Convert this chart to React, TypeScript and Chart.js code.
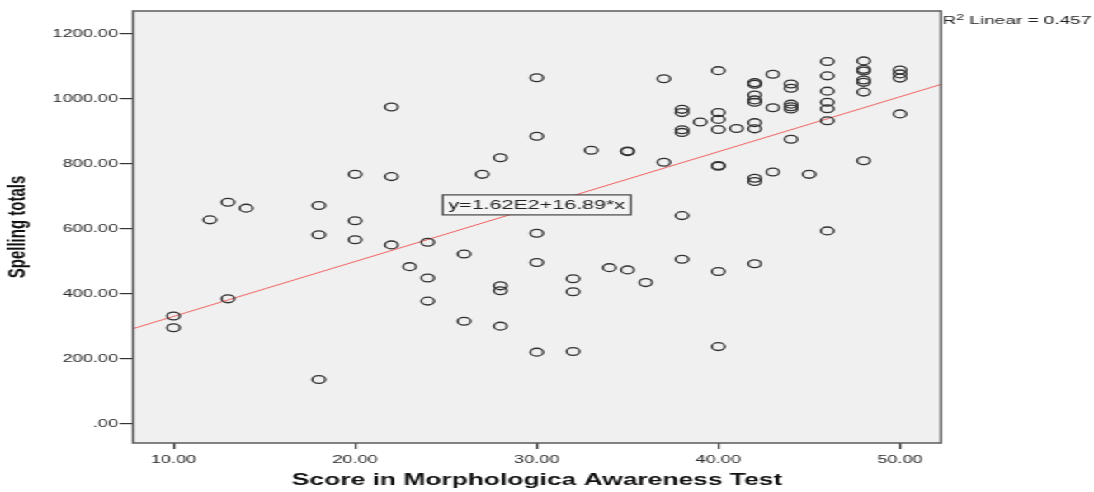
import React, { useEffect, useRef } from "react";
import { Chart, registerables } from "chart.js";

Chart.register(...registerables);

// The reference picture is horizontally stretched; render narrow and stretch.
const FULL_W = 1094;
const FULL_H = 492;
const W = 663;
const STRETCH = FULL_W / W;

const FONT = "'Liberation Sans', Arial, sans-serif";

const scoreValues = [
  10, 10,
  12,
  13, 13,
  14,
  18, 18, 18,
  20, 20, 20,
  22, 22, 22,
  23,
  24, 24, 24,
  26, 26,
  27,
  28, 28, 28, 28,
  30, 30, 30, 30, 30,
  32, 32, 32,
  33,
  34,
  35, 35, 35,
  36,
  37, 37,
  38, 38, 38, 38, 38, 38,
  39,
  40, 40, 40, 40, 40, 40, 40, 40,
  41,
  42, 42, 42, 42, 42, 42, 42, 42, 42, 42,
  43, 43, 43,
  44, 44, 44, 44, 44, 44,
  45,
  46, 46, 46, 46, 46, 46, 46,
  48, 48, 48, 48, 48, 48, 48,
  50, 50, 50, 50,
];

const spellingValues = [
  332, 296,
  628,
  682, 385,
  664,
  672, 582, 137,
  768, 625, 567,
  975, 761, 551,
  484,
  559, 449, 378,
  523, 316,
  768,
  819, 425, 410, 301,
  1065, 885, 587, 497, 221,
  447, 407, 223,
  842,
  481,
  840, 838, 474,
  435,
  1062, 805,
  968, 958, 905, 897, 641, 507,
  929,
  1087, 958, 937, 906, 795, 793, 469, 238,
  909,
  1050, 1045, 1012, 997, 990, 927, 908, 756, 746, 493,
  1076, 973, 775,
  1046, 1033, 984, 976, 969, 876,
  768,
  1115, 1071, 1024, 990, 970, 933, 594,
  1117, 1091, 1086, 1058, 1051, 1021, 810,
  1089, 1077, 1064, 954,
];

const xTickValues = [10, 20, 30, 40, 50];
const yTickValues = [0, 200, 400, 600, 800, 1000, 1200];
const xRange = [7.77, 52.26];
const yRange = [-58.5, 1270.5];

const fitIntercept = 162; // 1.62E2
const fitSlope = 16.89;
const equationText = "y=1.62E2+16.89*x";
const equationAnchor = { x: 30, y: 674 };
const r2Value = "0.457";

const xTitle = "Score in Morphologica Awareness Test";
const yTitle = "Spelling totals";

const decorPlugin = {
  id: "decor",
  beforeDraw(chart: any) {
    const { ctx, chartArea: a } = chart;
    ctx.save();
    ctx.fillStyle = "#ffffff";
    ctx.fillRect(0, 0, chart.width, chart.height);
    ctx.fillStyle = "#f0f0f0";
    ctx.fillRect(a.left, a.top, a.right - a.left, a.bottom - a.top);
    ctx.restore();
  },
  afterDatasetsDraw(chart: any) {
    const { ctx, chartArea: a, scales } = chart;
    ctx.save();
    // frame
    ctx.strokeStyle = "#5a5a5a";
    ctx.lineWidth = 1.5;
    ctx.strokeRect(a.left, a.top, a.right - a.left, a.bottom - a.top);

    // equation box
    const cx = scales.x.getPixelForValue(equationAnchor.x);
    const cy = scales.y.getPixelForValue(equationAnchor.y);
    ctx.font = `13px ${FONT}`;
    const tw = ctx.measureText(equationText).width;
    const bw = tw + 7;
    const bh = 20;
    ctx.fillStyle = "#f4f4f4";
    ctx.fillRect(cx - bw / 2, cy - bh / 2, bw, bh);
    ctx.strokeStyle = "#444";
    ctx.lineWidth = 1.2;
    ctx.strokeRect(cx - bw / 2, cy - bh / 2, bw, bh);
    ctx.fillStyle = "#222";
    ctx.textAlign = "center";
    ctx.textBaseline = "middle";
    ctx.fillText(equationText, cx, cy + 1);
    ctx.restore();
  },
  afterDraw(chart: any) {
    const { ctx, chartArea: a } = chart;
    ctx.save();
    ctx.fillStyle = "#111";
    // x title
    ctx.font = `bold 16px ${FONT}`;
    ctx.textAlign = "center";
    ctx.textBaseline = "middle";
    ctx.fillText(xTitle, (a.left + a.right) / 2, 481);
    // y title
    ctx.save();
    ctx.translate(11, (a.top + a.bottom) / 2);
    ctx.rotate(-Math.PI / 2);
    ctx.font = `bold 15px ${FONT}`;
    ctx.fillText(yTitle, 0, 0);
    ctx.restore();
    // R² label
    let x = a.right + 1;
    const base = 24;
    ctx.textAlign = "left";
    ctx.textBaseline = "alphabetic";
    ctx.font = `11.5px ${FONT}`;
    ctx.fillStyle = "#222";
    ctx.fillText("R", x, base);
    x += ctx.measureText("R").width;
    ctx.font = `8.5px ${FONT}`;
    ctx.fillText("2", x, base - 4.5);
    x += ctx.measureText("2").width;
    ctx.font = `11.5px ${FONT}`;
    ctx.fillText(` Linear = ${r2Value}`, x, base);
    ctx.restore();
  },
};

export default function App() {
  const ref = useRef<HTMLCanvasElement | null>(null);

  useEffect(() => {
    if (!ref.current) return;
    const points = scoreValues.map((x, i) => ({ x, y: spellingValues[i] }));
    const fitLine = [
      { x: xRange[0], y: fitIntercept + fitSlope * xRange[0] },
      { x: xRange[1], y: fitIntercept + fitSlope * xRange[1] },
    ];
    const chart = new Chart(ref.current, {
      type: "scatter",
      data: {
        datasets: [
          {
            type: "line",
            data: fitLine,
            borderColor: "#f06262",
            borderWidth: 1,
            pointRadius: 0,
            fill: false,
            order: 2,
          } as any,
          {
            type: "scatter",
            data: points,
            pointRadius: 3.9,
            pointBorderWidth: 1.3,
            borderColor: "#303030",
            backgroundColor: "rgba(0,0,0,0)",
            pointHoverRadius: 3.9,
            order: 1,
          },
        ],
      },
      options: {
        responsive: false,
        animation: false,
        events: [],
        layout: {
          padding: { top: 11, left: 0, bottom: 0, right: W - 941 / STRETCH },
        },
        plugins: {
          legend: { display: false },
          tooltip: { enabled: false },
        },
        scales: {
          x: {
            type: "linear",
            min: xRange[0],
            max: xRange[1],
            afterBuildTicks: (s: any) => {
              s.ticks = xTickValues.map((v) => ({ value: v }));
            },
            afterFit: (s: any) => {
              s.height = FULL_H - 443;
            },
            ticks: {
              callback: (v: any) => Number(v).toFixed(2),
              font: { family: FONT, size: 11 },
              color: "#2a2a2a",
              padding: 4,
              maxRotation: 0,
              autoSkip: false,
            },
            grid: {
              drawOnChartArea: false,
              drawTicks: true,
              tickLength: 6,
              color: "#333",
              lineWidth: 1.2,
            },
            border: { display: false },
          },
          y: {
            type: "linear",
            min: yRange[0],
            max: yRange[1],
            afterBuildTicks: (s: any) => {
              s.ticks = yTickValues.map((v) => ({ value: v }));
            },
            afterFit: (s: any) => {
              s.width = 133 / STRETCH;
            },
            ticks: {
              callback: (v: any) => (Number(v) === 0 ? ".00" : Number(v).toFixed(2)),
              font: { family: FONT, size: 11 },
              color: "#2a2a2a",
              padding: 1,
              autoSkip: false,
            },
            grid: {
              drawOnChartArea: false,
              drawTicks: true,
              tickLength: 8,
              color: "#333",
              lineWidth: 1.2,
            },
            border: { display: false },
          },
        },
      },
      plugins: [decorPlugin],
    });
    return () => chart.destroy();
  }, []);

  return (
    <div
      style={{
        position: "absolute",
        left: 0,
        top: 0,
        width: W,
        height: FULL_H,
        transform: `scaleX(${STRETCH})`,
        transformOrigin: "0 0",
        background: "#fff",
      }}
    >
      <canvas ref={ref} width={W} height={FULL_H} style={{ display: "block" }} />
    </div>
  );
}
